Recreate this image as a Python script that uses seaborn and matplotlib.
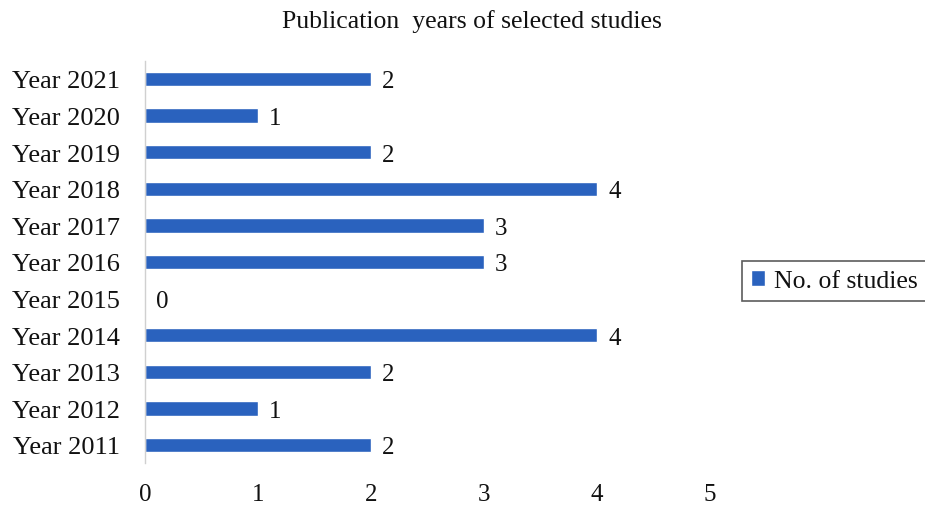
import matplotlib
matplotlib.use("Agg")
import matplotlib.pyplot as plt
import seaborn as sns
import pandas as pd

years = ["Year 2021", "Year 2020", "Year 2019", "Year 2018", "Year 2017", "Year 2016",
         "Year 2015", "Year 2014", "Year 2013", "Year 2012", "Year 2011"]
studies = [2, 1, 2, 4, 3, 3, 0, 4, 2, 1, 2]
series_name = "No. of studies"
x_ticks = [0, 1, 2, 3, 4, 5]
title = "Publication  years of selected studies"

sns.set_theme(style="white")
plt.rcParams["font.family"] = ["Liberation Serif", "DejaVu Serif"]

df = pd.DataFrame({"year": years, "count": studies})
bar_color = "#2A62BE"
text_color = "#111111"

fig = plt.figure(figsize=(9.25, 5.1), dpi=100)
ax = fig.add_axes([145 / 925, 1 - 464.3 / 510, (710 - 145) / 925, (464.3 - 61.7) / 510])

sns.barplot(data=df, x="count", y="year", orient="h", color=bar_color,
            width=0.39, saturation=1, label=series_name, ax=ax)

ax.set_xlim(0, 5)
ax.set_ylim(len(years) - 0.5, -0.5)
ax.set_xticks(x_ticks)
ax.set_xticklabels([str(t) for t in x_ticks], fontsize=18, color=text_color)
ax.tick_params(axis="x", length=0, pad=14)
ax.set_xlabel("")
ax.set_ylabel("")

# category labels, with tick marks placed between the categories
ax.set_yticks(range(len(years)))
ax.set_yticklabels(years, fontsize=19, color=text_color)
ax.set_yticks([i - 0.5 for i in range(len(years) + 1)], minor=True)
ax.tick_params(axis="y", which="major", length=0, pad=18)
ax.tick_params(axis="y", which="minor", length=7, width=1, color="#D0D0D0", direction="out")

for side in ["top", "right", "bottom"]:
    ax.spines[side].set_visible(False)
ax.spines["left"].set_color("#D0D0D0")
ax.spines["left"].set_linewidth(1)

# value labels at the end of each bar
for i, v in enumerate(studies):
    ax.annotate(str(v), xy=(v, i), xytext=(8, 0), textcoords="offset points",
                ha="left", va="center_baseline", fontsize=18, color=text_color)

fig.text(0.5 * (283 + 660) / 925, 1 - 22 / 510, title, ha="center", va="center",
         fontsize=18.5, color=text_color)

leg = ax.legend(loc="center left", bbox_to_anchor=(742 / 925, 1 - 282 / 510),
                bbox_transform=fig.transFigure, fontsize=18.5, frameon=True,
                fancybox=False, handlelength=0.55, handleheight=0.55,
                handletextpad=0.35, borderpad=0.35, borderaxespad=0)
for t in leg.get_texts():
    t.set_color(text_color)
leg.get_frame().set_edgecolor("#333333")
leg.get_frame().set_linewidth(1.2)

fig.savefig("out.png", dpi=100)
